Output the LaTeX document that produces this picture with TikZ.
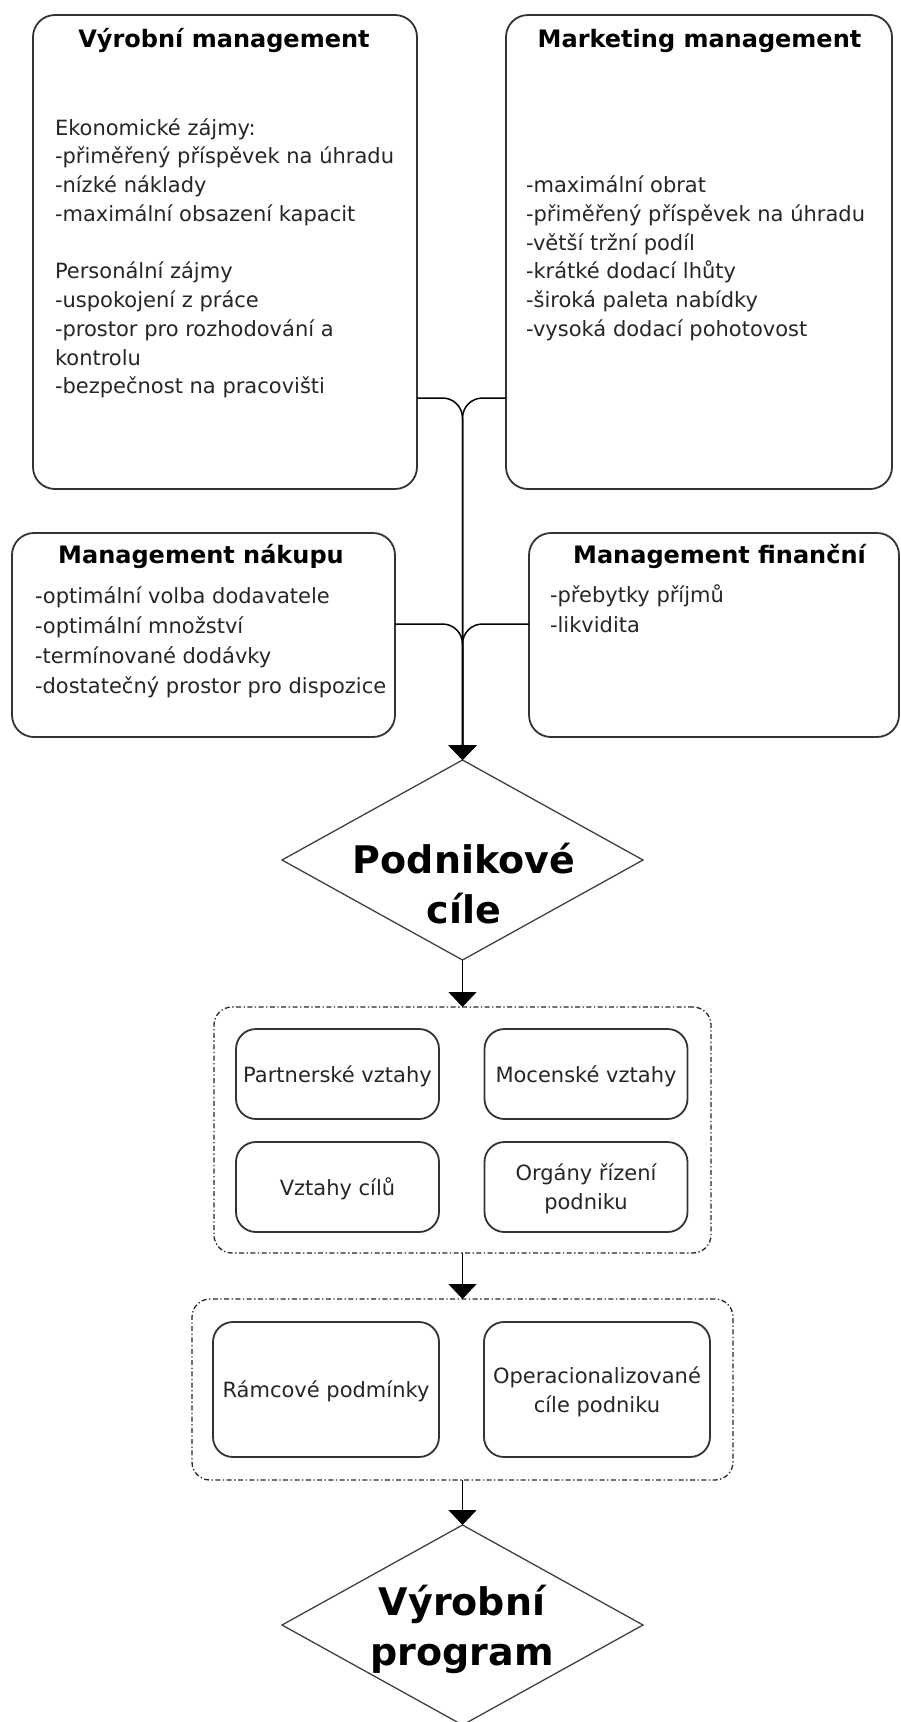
\documentclass[tikz,border=0pt]{standalone}
\usepackage{fontspec}
\setmainfont{DejaVu Sans}
\usetikzlibrary{shapes.geometric,arrows.meta}

% strut for the centred labels of the small boxes (height 22.5, depth 6.5)
\newcommand{\tstrut}{\rule[-6.5pt]{0pt}{29pt}}

\begin{document}
\begin{tikzpicture}[x=1pt,y=-1pt,
  every node/.style={inner sep=0pt, outer sep=0pt},
  bigbox/.style={rectangle, draw=black!80, line width=1.8pt, rounded corners=22pt},
  boxtitle/.style={font=\fontsize{24}{30}\selectfont\bfseries, text=black, anchor=base},
  boxbody/.style={font=\fontsize{21}{28.75}\selectfont, text=black!85, align=left, anchor=north west},
  boxbodyw/.style={boxbody, font=\fontsize{21}{30}\selectfont},
  smallbox/.style={rectangle, draw=black!80, line width=1.8pt, rounded corners=20pt,
    minimum width=203pt, minimum height=90pt,
    font=\fontsize{21}{29}\selectfont, text=black!85, align=center},
  group/.style={rectangle, draw=black!85, line width=1.3pt, rounded corners=18pt,
    dash pattern=on 5pt off 2.5pt on 1.3pt off 2.5pt},
  decision/.style={diamond, draw=black!75, line width=1.3pt,
    minimum width=361pt, minimum height=200pt},
  dectext/.style={font=\fontsize{38}{50}\selectfont\bfseries, text=black, align=center, anchor=north},
  arrowtip/.style={-{Triangle[length=15pt,width=28pt]}},
  feed/.style={draw=black, line width=1.5pt, rounded corners=20pt, arrowtip},
  flow/.style={draw=black, line width=1.5pt, arrowtip}
]
\fill[white] (0,0) rectangle (901,1722);
\useasboundingbox (0,0) rectangle (901,1722);

% ---- management areas ----
\node[bigbox, minimum width=384pt, minimum height=474pt] (vyr) at (225,252) {};
\node[boxtitle] (vyr-title) at (224,47) {Výrobní management};
\node[boxbody] (vyr-text) at (55,115) {\rule{0pt}{20pt}Ekonomické zájmy:\\
  -přiměřený příspěvek na úhradu\\
  -nízké náklady\\
  -maximální obsazení kapacit\\[28.75pt]
  Personální zájmy\\
  -uspokojení z práce\\
  -prostor pro rozhodování a\\
  kontrolu\\
  -bezpečnost na pracovišti};

\node[bigbox, minimum width=386pt, minimum height=474pt] (mkt) at (699,252) {};
\node[boxtitle] (mkt-title) at (699.5,47) {Marketing management};
\node[boxbody] (mkt-text) at (526,172.5) {\rule{0pt}{20pt}-maximální obrat\\
  -přiměřený příspěvek na úhradu\\
  -větší tržní podíl\\
  -krátké dodací lhůty\\
  -široká paleta nabídky\\
  -vysoká dodací pohotovost};

\node[bigbox, minimum width=383pt, minimum height=204pt] (nak) at (203.5,635) {};
\node[boxtitle] (nak-title) at (201,563) {Management nákupu};
\node[boxbodyw] (nak-text) at (35,583) {\rule{0pt}{20pt}-optimální volba dodavatele\\
  -optimální množství\\
  -termínované dodávky\\
  -dostatečný prostor pro dispozice};

\node[bigbox, minimum width=370pt, minimum height=204pt] (fin) at (714,635) {};
\node[boxtitle] (fin-title) at (719.5,563) {Management finanční};
\node[boxbodyw] (fin-text) at (550,582) {\rule{0pt}{20pt}-přebytky příjmů\\
  -likvidita};

% ---- company goals ----
\node[decision] (cile) at (462.5,860) {};
\node[dectext] (cile-text) at (464,839) {\rule{0pt}{34pt}Podnikové\\cíle};

% junctions where the feeds turn down
\coordinate (j1) at (462.5,398);
\coordinate (j2) at (462.5,624);

\draw[feed] (vyr.east |- j1) -| (cile.north);
\draw[feed] (mkt.west |- j1) -| (cile.north);
\draw[feed] (nak.east |- j2) -| (cile.north);
\draw[feed] (fin.west |- j2) -| (cile.north);

% ---- relations ----
\node[group, minimum width=497pt, minimum height=246pt] (rel) at (462.5,1130) {};
\node[smallbox] (partner) at (337.5,1074) {\tstrut Partnerské vztahy};
\node[smallbox] (moc) at (586,1074) {\tstrut Mocenské vztahy};
\node[smallbox] (vzt) at (337.5,1187) {\tstrut Vztahy cílů};
\node[smallbox] (org) at (586,1187) {\tstrut Orgány řízení\\\tstrut podniku};

% ---- conditions ----
\node[group, minimum width=541pt, minimum height=181pt] (cond) at (462.5,1389.5) {};
\node[smallbox, minimum width=226pt, minimum height=135pt] (ramc) at (326,1389.5) {\tstrut Rámcové podmínky};
\node[smallbox, minimum width=226pt, minimum height=135pt] (oper) at (597,1389.5) {\tstrut Operacionalizované\\\tstrut cíle podniku};

% ---- production programme ----
\node[decision] (prog) at (462.5,1625) {};
\node[dectext] (prog-text) at (462,1581) {\rule{0pt}{34pt}Výrobní\\program};

\draw[flow] (cile.south) -- (rel.north);
\draw[flow] (rel.south) -- (cond.north);
\draw[flow] (cond.south) -- (prog.north);
\end{tikzpicture}
\end{document}
